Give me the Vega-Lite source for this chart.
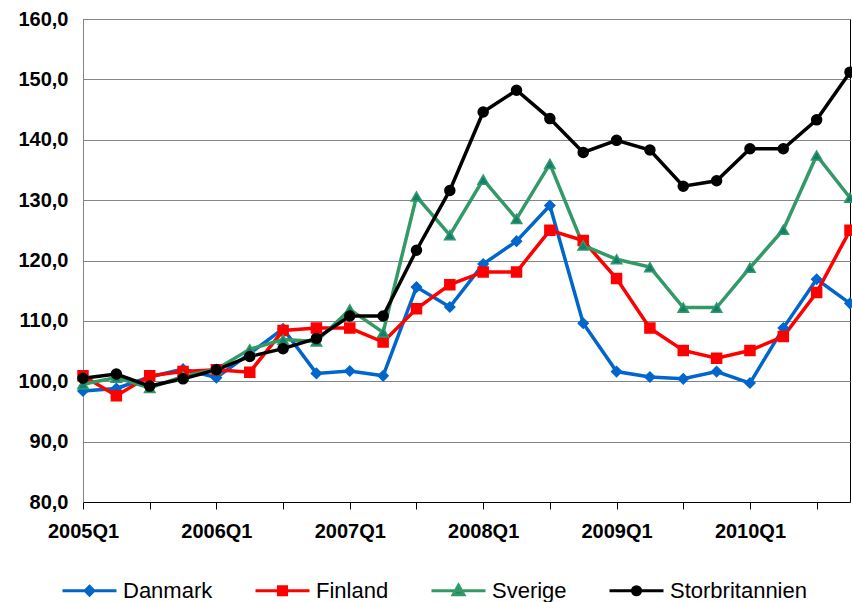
{
  "$schema": "https://vega.github.io/schema/vega-lite/v6.json",
  "width": 767,
  "height": 483,
  "autosize": {"type": "none"},
  "padding": {"left": 83, "top": 19, "right": 2, "bottom": 100},
  "background": "white",
  "config": {
    "view": {"stroke": "#000000", "strokeWidth": 1},
    "font": "Liberation Sans"
  },
  "data": {
    "values": [
      {"q": "2005Q1", "Danmark": 98.4, "Finland": 100.9, "Sverige": 99.5, "Storbritannien": 100.5},
      {"q": "2005Q2", "Danmark": 98.8, "Finland": 97.6, "Sverige": 100.6, "Storbritannien": 101.2},
      {"q": "2005Q3", "Danmark": 100.7, "Finland": 100.9, "Sverige": 98.9, "Storbritannien": 99.2},
      {"q": "2005Q4", "Danmark": 102.0, "Finland": 101.6, "Sverige": 100.8, "Storbritannien": 100.4},
      {"q": "2006Q1", "Danmark": 100.6, "Finland": 101.9, "Sverige": 102.0, "Storbritannien": 101.9},
      {"q": "2006Q2", "Danmark": 104.6, "Finland": 101.5, "Sverige": 105.3, "Storbritannien": 104.1},
      {"q": "2006Q3", "Danmark": 108.7, "Finland": 108.4, "Sverige": 106.9, "Storbritannien": 105.4},
      {"q": "2006Q4", "Danmark": 101.3, "Finland": 108.8, "Sverige": 106.6, "Storbritannien": 107.1},
      {"q": "2007Q1", "Danmark": 101.7, "Finland": 108.8, "Sverige": 111.9, "Storbritannien": 110.8},
      {"q": "2007Q2", "Danmark": 100.9, "Finland": 106.5, "Sverige": 108.1, "Storbritannien": 110.8},
      {"q": "2007Q3", "Danmark": 115.6, "Finland": 112.0, "Sverige": 130.6, "Storbritannien": 121.7},
      {"q": "2007Q4", "Danmark": 112.3, "Finland": 116.0, "Sverige": 124.2, "Storbritannien": 131.6},
      {"q": "2008Q1", "Danmark": 119.4, "Finland": 118.1, "Sverige": 133.4, "Storbritannien": 144.6},
      {"q": "2008Q2", "Danmark": 123.2, "Finland": 118.1, "Sverige": 126.9, "Storbritannien": 148.2},
      {"q": "2008Q3", "Danmark": 129.1, "Finland": 125.0, "Sverige": 136.0, "Storbritannien": 143.5},
      {"q": "2008Q4", "Danmark": 109.6, "Finland": 123.3, "Sverige": 122.5, "Storbritannien": 137.9},
      {"q": "2009Q1", "Danmark": 101.6, "Finland": 117.0, "Sverige": 120.2, "Storbritannien": 139.9},
      {"q": "2009Q2", "Danmark": 100.7, "Finland": 108.8, "Sverige": 118.9, "Storbritannien": 138.3},
      {"q": "2009Q3", "Danmark": 100.4, "Finland": 105.1, "Sverige": 112.2, "Storbritannien": 132.3},
      {"q": "2009Q4", "Danmark": 101.6, "Finland": 103.8, "Sverige": 112.2, "Storbritannien": 133.2},
      {"q": "2010Q1", "Danmark": 99.7, "Finland": 105.1, "Sverige": 118.8, "Storbritannien": 138.5},
      {"q": "2010Q2", "Danmark": 108.8, "Finland": 107.4, "Sverige": 125.1, "Storbritannien": 138.5},
      {"q": "2010Q3", "Danmark": 116.9, "Finland": 114.7, "Sverige": 137.4, "Storbritannien": 143.3},
      {"q": "2010Q4", "Danmark": 112.9, "Finland": 125.0, "Sverige": 130.4, "Storbritannien": 151.2}
    ]
  },
  "transform": [
    {"fold": ["Danmark", "Finland", "Sverige", "Storbritannien"], "as": ["land", "v"]}
  ],
  "encoding": {
    "x": {
      "field": "q",
      "type": "ordinal",
      "sort": null,
      "scale": {"type": "point", "padding": 0},
      "axis": {
        "title": null,
        "values": ["2005Q1","2005Q3","2006Q1","2006Q3","2007Q1","2007Q3","2008Q1","2008Q3","2009Q1","2009Q3","2010Q1","2010Q3"],
        "labelExpr": "substring(datum.value, 4, 6) === 'Q1' ? datum.value : ''",
        "labelAngle": 0,
        "labelOverlap": false,
        "labelFont": "Liberation Sans",
        "labelFontWeight": "bold",
        "labelFontSize": 20,
        "labelColor": "#000000",
        "labelPadding": 12,
        "tickSize": 7,
        "tickColor": "#000000",
        "domainColor": "#000000",
        "domainWidth": 1,
        "grid": false
      }
    },
    "y": {
      "field": "v",
      "type": "quantitative",
      "scale": {"domain": [80, 160], "nice": false, "zero": false},
      "axis": {
        "title": null,
        "values": [80, 90, 100, 110, 120, 130, 140, 150, 160],
        "labelExpr": "replace(format(datum.value, '.1f'), '.', ',')",
        "labelFont": "Liberation Sans",
        "labelFontWeight": "bold",
        "labelFontSize": 20,
        "labelColor": "#000000",
        "labelPadding": 15,
        "ticks": false,
        "domainColor": "#868686",
        "grid": true,
        "gridColor": "#868686",
        "gridWidth": 1,
        "gridOpacity": 1
      }
    }
  },
  "layer": [
    {
      "mark": {"type": "line", "strokeWidth": 3.5},
      "encoding": {
        "color": {
          "field": "land",
          "type": "nominal",
          "sort": ["Danmark", "Finland", "Sverige", "Storbritannien"],
          "scale": {"domain": ["Danmark", "Finland", "Sverige", "Storbritannien"], "range": ["#0066CC", "#FF0000", "#339966", "#000000"]},
          "legend": {
            "title": null,
            "orient": "none",
            "legendX": -22,
            "legendY": 543,
            "direction": "horizontal",
            "columns": 4,
            "columnPadding": 36,
            "symbolSize": 2916,
            "symbolStrokeWidth": 3,
            "labelFont": "Liberation Sans",
            "labelFontSize": 22,
            "labelColor": "#000000",
            "labelOffset": 5,
            "labelLimit": 300,
            "padding": 0,
            "encode": {
              "symbols": {
                "update": {
                  "shape": {"signal": "datum.value === 'Danmark' ? 'M-1,0H1M0,-0.16L0.16,0L0,0.16L-0.16,0Z' : datum.value === 'Finland' ? 'M-1,0H1M-0.15,-0.15H0.15V0.15H-0.15Z' : datum.value === 'Sverige' ? 'M-1,0H1M0,-0.2L0.2,0.15L-0.2,0.15Z' : 'M-1,0H1M0.15,0A0.15,0.15 0 1,1 -0.15,0A0.15,0.15 0 1,1 0.15,0Z'"},
                  "fill": {"signal": "datum.value === 'Danmark' ? '#0066CC' : datum.value === 'Finland' ? '#FF0000' : datum.value === 'Sverige' ? '#117F6F' : '#000000'"},
                  "stroke": {"signal": "datum.value === 'Danmark' ? '#0066CC' : datum.value === 'Finland' ? '#FF0000' : datum.value === 'Sverige' ? '#339966' : '#000000'"},
                  "strokeWidth": {"value": 3},
                  "opacity": {"value": 1}
                }
              }
            }
          }
        }
      }
    },
    {
      "transform": [{"filter": "datum.land === 'Danmark'"}],
      "mark": {"type": "point", "shape": "diamond", "filled": true, "opacity": 1, "fill": "#0066CC", "stroke": "#0066CC", "strokeWidth": 1.5, "size": 100}
    },
    {
      "transform": [{"filter": "datum.land === 'Finland'"}],
      "mark": {"type": "point", "shape": "square", "filled": true, "opacity": 1, "fill": "#FF0000", "stroke": "#FF0000", "strokeWidth": 1.5, "size": 100}
    },
    {
      "transform": [{"filter": "datum.land === 'Sverige'"}],
      "mark": {"type": "point", "shape": "triangle-up", "filled": true, "opacity": 1, "fill": "#117F6F", "stroke": "#339966", "strokeWidth": 1.5, "size": 110}
    },
    {
      "transform": [{"filter": "datum.land === 'Storbritannien'"}],
      "mark": {"type": "point", "shape": "circle", "filled": true, "opacity": 1, "fill": "#000000", "stroke": "#000000", "strokeWidth": 1.5, "size": 100}
    }
  ]
}
